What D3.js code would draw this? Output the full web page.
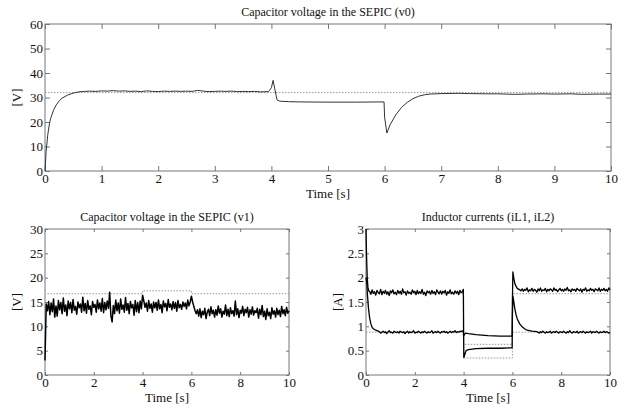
<!DOCTYPE html>
<html>
<head>
<meta charset="utf-8">
<script src="https://cdn.jsdelivr.net/npm/d3@7"></script>
<style>
  body { margin: 0; background: #fff; }
  svg { display: block; }
  svg text { font-family: "Liberation Serif", "Times New Roman", Times, "DejaVu Serif", serif; fill: #111; }
</style>
</head>
<body>
<svg id="chart"></svg>
<script>
// ---- data ----

// v0: output capacitor voltage [t, V]
const v0Points = [
  [0,0],[0.02,8],[0.05,15],[0.08,19.5],[0.1,21.5],[0.15,24.8],[0.2,27],[0.25,28.6],[0.3,29.7],
  [0.4,31],[0.5,31.8],[0.6,32.3],[0.7,32.5],[0.8,32.6],[0.9,32.5],[1.0,32.7],[1.1,32.6],[1.2,32.8],
  [1.3,32.6],[1.4,32.7],[1.5,32.5],[1.6,32.6],[1.7,32.4],[1.8,32.7],[1.9,32.5],[2.0,32.4],[2.1,32.6],
  [2.2,32.5],[2.3,32.6],[2.4,32.5],[2.5,32.6],[2.6,32.5],[2.7,32.9],[2.8,32.6],[2.9,32.4],[3.0,32.5],
  [3.1,32.6],[3.2,32.5],[3.3,32.6],[3.4,32.4],[3.5,32.5],[3.6,32.4],[3.7,32.5],[3.8,32.3],[3.95,32.4],
  [4.0,34],[4.03,37],[4.06,33.5],[4.1,29],[4.15,28.5],[4.3,28.3],[4.5,28.2],[5.0,28.1],[5.5,28.1],
  [5.99,28.2],[6.0,22],[6.04,15.5],[6.1,19],[6.2,23],[6.3,26],[6.4,28],[6.5,29.5],[6.6,30.5],
  [6.7,31.1],[6.8,31.4],[7.0,31.6],[7.3,31.7],[7.5,31.6],[7.8,31.5],[8.0,31.5],[8.3,31.3],[8.5,31.4],
  [8.8,31.5],[9.0,31.4],[9.3,31.5],[9.5,31.3],[9.8,31.4],[10,31.4]
];
const v0Ref = [[0,32],[10,32]];

// v1: intermediate capacitor voltage, sampled every 0.05 s from 0 s
const v1Step = 0.05;
const v1Values = [
  3.0,14.6,13.2,15.1,12.4,14.8,13.0,15.6,11.9,14.2,
  12.1,15.3,13.4,14.9,12.6,15.8,13.1,14.4,12.2,15.2,
  13.6,14.9,12.8,15.5,13.3,14.1,12.5,15.0,13.8,14.6,
  12.9,16.0,13.2,14.7,12.7,15.3,13.5,14.2,12.4,15.1,
  13.9,14.5,12.9,15.4,13.6,14.8,13.1,15.7,12.8,14.9,
  13.4,15.2,13.7,17.0,12.2,10.9,14.3,12.6,15.4,13.2,
  14.8,12.7,15.6,13.5,14.4,12.9,15.9,13.3,14.7,12.6,
  15.1,13.8,14.5,12.3,15.3,13.0,14.9,12.8,15.2,13.6,
  16.4,15.2,13.9,14.8,13.1,15.3,13.7,14.6,12.9,15.0,
  13.8,14.9,13.3,15.4,13.6,14.5,12.8,15.2,14.0,14.7,
  13.2,15.5,13.9,14.6,13.4,15.1,13.7,14.9,13.1,15.3,
  13.8,14.5,13.5,15.0,14.1,14.8,13.6,15.4,14.2,15.0,
  16.2,15.0,14.1,13.2,12.6,13.4,12.1,13.6,11.8,13.1,
  12.4,13.7,11.6,12.9,13.5,12.2,14.0,12.6,13.3,11.9,
  13.4,12.3,14.2,12.7,13.6,11.9,13.1,12.5,14.4,12.2,
  13.5,12.0,13.8,12.6,13.2,12.1,15.2,12.4,13.6,11.8,
  13.3,12.7,14.1,12.2,13.5,12.8,13.9,11.9,13.4,12.5,
  14.0,12.3,13.2,12.8,13.7,11.7,13.5,12.4,14.3,12.0,
  13.1,11.4,13.6,12.2,12.9,11.6,13.8,12.5,13.2,11.9,
  13.7,12.4,13.3,12.0,14.1,12.6,13.4,12.2,13.9,12.7,
  13.2
];
const v1Ref = [[0.1,16.7],[4,16.7],[4,17.3],[6,17.3],[6,16.7],[10,16.7]];

// iL1 (upper current): transients as [t, A], ripple sampled every 0.05 s
const rippleStep = 0.05;
const iL1Head = [[0,3.0],[0.02,2.5],[0.05,2.0],[0.08,1.8],[0.12,1.72]];
const iL1Ripple1Start = 0.15;
const iL1Ripple1 = [
  1.72,1.66,1.75,1.68,1.71,1.64,1.74,1.69,1.67,1.76,
  1.65,1.72,1.68,1.74,1.66,1.71,1.63,1.73,1.69,1.75,
  1.67,1.70,1.65,1.74,1.68,1.72,1.66,1.77,1.69,1.71,
  1.64,1.73,1.68,1.70,1.66,1.75,1.69,1.72,1.65,1.74,
  1.67,1.71,1.68,1.76,1.66,1.70,1.63,1.73,1.69,1.72,
  1.66,1.74,1.68,1.71,1.65,1.75,1.70,1.67,1.73,1.66,
  1.72,1.69,1.74,1.64,1.71,1.68,1.75,1.67,1.70,1.66,
  1.73,1.68,1.72,1.65,1.74,1.69,1.71
];
const iL1Mid = [
  [3.99,1.76],[4.0,0.9],[4.01,0.36],[4.05,0.42],[4.1,0.5],[4.2,0.52],[4.5,0.54],[5.0,0.55],
  [5.5,0.55],[5.99,0.56],[6.0,1.5],[6.02,2.12],[6.06,1.98],[6.1,1.88],[6.15,1.82],[6.2,1.78],[6.3,1.75]
];
const iL1Ripple2Start = 6.35;
const iL1Ripple2 = [
  1.73,1.77,1.72,1.76,1.74,1.79,1.71,1.75,1.73,1.78,
  1.72,1.76,1.74,1.70,1.77,1.73,1.79,1.72,1.75,1.74,
  1.78,1.71,1.76,1.73,1.77,1.75,1.72,1.79,1.74,1.76,
  1.71,1.75,1.78,1.73,1.76,1.72,1.77,1.74,1.80,1.73,
  1.75,1.71,1.77,1.74,1.76,1.72,1.78,1.75,1.73,1.77,
  1.70,1.76,1.74,1.79,1.72,1.75,1.73,1.78,1.74,1.76,
  1.71,1.77,1.75,1.73,1.79,1.72,1.76,1.74,1.78,1.73,
  1.76,1.72,1.79,1.75
];

// iL2 (lower current)
const iL2Head = [[0,2.0],[0.03,1.9],[0.06,1.65],[0.1,1.38],[0.15,1.17],[0.2,1.05],[0.25,0.98],[0.3,0.95],[0.4,0.92],[0.5,0.9]];
const iL2Ripple1Start = 0.55;
const iL2Ripple1 = [
  0.89,0.86,0.88,0.90,0.87,0.89,0.85,0.88,0.91,0.87,
  0.88,0.86,0.90,0.88,0.87,0.89,0.86,0.90,0.88,0.87,
  0.89,0.85,0.88,0.90,0.86,0.89,0.87,0.88,0.91,0.86,
  0.88,0.87,0.90,0.88,0.86,0.89,0.87,0.90,0.88,0.86,
  0.89,0.87,0.88,0.91,0.86,0.88,0.89,0.87,0.90,0.88,
  0.86,0.89,0.88,0.90,0.87,0.89,0.86,0.88,0.90,0.87,
  0.89,0.88,0.91,0.87,0.89,0.88,0.90,0.89,0.91
];
const iL2Mid = [
  [3.99,0.9],[4.0,0.8],[4.03,0.83],[4.08,0.86],[4.2,0.85],[4.5,0.83],[5.0,0.81],[5.5,0.8],[5.99,0.8],
  [6.0,1.2],[6.02,1.62],[6.06,1.5],[6.1,1.36],[6.15,1.24],[6.2,1.15],[6.3,1.05],[6.4,0.99],[6.5,0.95],
  [6.6,0.92],[6.8,0.9],[7.0,0.89]
];
const iL2Ripple2Start = 7.05;
const iL2Ripple2 = [
  0.88,0.86,0.89,0.87,0.90,0.88,0.86,0.89,0.87,0.88,
  0.90,0.86,0.88,0.89,0.87,0.90,0.88,0.86,0.89,0.88,
  0.87,0.90,0.88,0.86,0.89,0.87,0.91,0.88,0.86,0.89,
  0.88,0.87,0.90,0.86,0.88,0.89,0.87,0.90,0.88,0.86,
  0.89,0.87,0.88,0.90,0.86,0.89,0.88,0.87,0.90,0.88,
  0.86,0.89,0.87,0.88,0.90,0.87,0.89,0.88,0.86,0.88
];
const iL1Ref = [[0,1.67],[4,1.67],[4,0.35],[6,0.35],[6,1.67],[10,1.67]];
const iL2Ref = [[0,0.88],[4,0.88],[4,0.63],[6,0.63],[6,0.88],[10,0.88]];

// tick labels
const topXTicks = d3.range(0, 11, 1);
const topYTicks = [0, 10, 20, 30, 40, 50, 60];
const smallXTicks = [0, 2, 4, 6, 8, 10];
const v1YTicks = [0, 5, 10, 15, 20, 25, 30];
const iLYTicks = [0, 0.5, 1, 1.5, 2, 2.5, 3];

// ---- helpers ----
const sampled = (start, values) => values.map((v, i) => [start + i * rippleStep, v]);
const v1Points = v1Values.map((v, i) => [i * v1Step, v]);
const iL1Points = [].concat(iL1Head, sampled(iL1Ripple1Start, iL1Ripple1), iL1Mid, sampled(iL1Ripple2Start, iL1Ripple2));
const iL2Points = [].concat(iL2Head, sampled(iL2Ripple1Start, iL2Ripple1), iL2Mid, sampled(iL2Ripple2Start, iL2Ripple2));

const serif = "'Liberation Serif', 'Times New Roman', Times, 'DejaVu Serif', serif";
const svg = d3.select("#chart").attr("width", 629).attr("height", 408)
  .style("font-family", serif);
const fmt = d3.format("~g");

function panel(cfg) {
  const g = svg.append("g").attr("transform", "translate(" + cfg.left + "," + cfg.top + ")");
  const w = cfg.width, h = cfg.height;
  const x = d3.scaleLinear().domain([0, 10]).range([0, w]);
  const y = d3.scaleLinear().domain(cfg.yDomain).range([h, 0]);
  const tl = cfg.tickLen;

  // bottom axis, ticks pointing inward
  g.append("g")
    .attr("transform", "translate(0," + h + ")")
    .call(d3.axisBottom(x).tickValues(cfg.xTicks).tickFormat(fmt).tickSize(-tl).tickPadding(3))
    .call(a => a.select(".domain").remove());
  // top ticks
  g.append("g")
    .call(d3.axisTop(x).tickValues(cfg.xTicks).tickSize(-tl).tickFormat(""))
    .call(a => a.select(".domain").remove());
  // left axis
  g.append("g")
    .call(d3.axisLeft(y).tickValues(cfg.yTicks).tickFormat(fmt).tickSize(-tl).tickPadding(2))
    .call(a => a.select(".domain").remove());
  // right ticks
  g.append("g")
    .attr("transform", "translate(" + w + ",0)")
    .call(d3.axisRight(y).tickValues(cfg.yTicks).tickSize(-tl).tickFormat(""))
    .call(a => a.select(".domain").remove());

  g.selectAll("g").attr("font-family", serif);
  g.selectAll(".tick line").attr("stroke", "#777");
  g.selectAll(".tick text")
    .style("font-family", serif)
    .attr("font-size", 13)
    .attr("fill", "#111");

  // frame
  g.append("rect")
    .attr("width", w).attr("height", h)
    .attr("fill", "none").attr("stroke", "#777").attr("stroke-width", 1);

  const line = d3.line().x(d => x(d[0])).y(d => y(d[1]));

  cfg.refs.forEach(r => {
    g.append("path").datum(r)
      .attr("d", line).attr("fill", "none")
      .attr("stroke", "#999").attr("stroke-width", 1)
      .attr("stroke-dasharray", "1.5,1.5");
  });
  cfg.series.forEach(s => {
    g.append("path").datum(s)
      .attr("d", line).attr("fill", "none")
      .attr("stroke", cfg.color).attr("stroke-width", cfg.lineWidth)
      .attr("stroke-linejoin", "round");
  });

  // title
  svg.append("text")
    .attr("x", cfg.left + w / 2).attr("y", cfg.top - 8)
    .attr("text-anchor", "middle").attr("font-size", 12)
    .style("font-family", serif)
    .text(cfg.title);
  // x label
  svg.append("text")
    .attr("x", cfg.left + w / 2).attr("y", cfg.top + h + 27)
    .attr("text-anchor", "middle").attr("font-size", 13)
    .style("font-family", serif)
    .text("Time [s]");
  // y label
  svg.append("text")
    .attr("transform", "translate(" + cfg.yLabelX + "," + (cfg.top + h / 2) + ") rotate(-90)")
    .attr("text-anchor", "middle").attr("font-size", 13)
    .style("font-family", serif)
    .text(cfg.yLabel);
}

panel({
  left: 45, top: 24, width: 566, height: 147,
  yDomain: [0, 60], xTicks: topXTicks, yTicks: topYTicks, tickLen: 5,
  title: "Capacitor voltage in the SEPIC (v0)", yLabel: "[V]", yLabelX: 21,
  refs: [v0Ref], series: [v0Points], color: "#333", lineWidth: 1
});

panel({
  left: 45, top: 229, width: 244, height: 146,
  yDomain: [0, 30], xTicks: smallXTicks, yTicks: v1YTicks, tickLen: 3,
  title: "Capacitor voltage in the SEPIC (v1)", yLabel: "[V]", yLabelX: 21,
  refs: [v1Ref], series: [v1Points], color: "#000", lineWidth: 1.5
});

panel({
  left: 366, top: 229, width: 244, height: 146,
  yDomain: [0, 3], xTicks: smallXTicks, yTicks: iLYTicks, tickLen: 3,
  title: "Inductor currents (iL1, iL2)", yLabel: "[A]", yLabelX: 342,
  refs: [iL1Ref, iL2Ref], series: [iL1Points, iL2Points], color: "#000", lineWidth: 1.3
});
</script>
</body>
</html>
